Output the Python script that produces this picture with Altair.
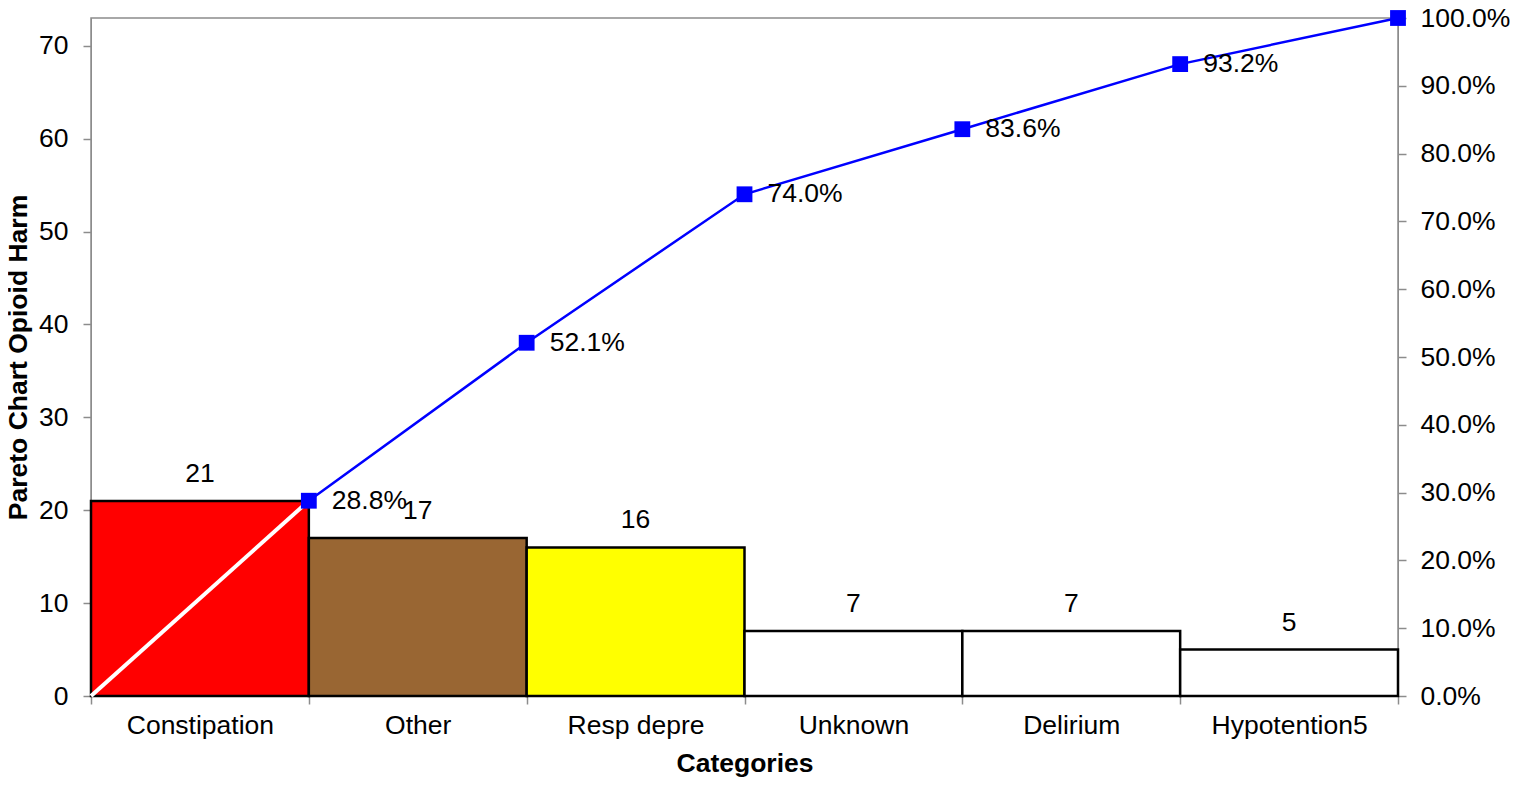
import altair as alt
import pandas as pd

categories = ["Constipation", "Other", "Resp depre", "Unknown", "Delirium", "Hypotention5"]
counts = [21, 17, 16, 7, 7, 5]
cum_pct = [0.288, 0.521, 0.740, 0.836, 0.932, 1.000]
bar_colors = ["#FF0000", "#996633", "#FFFF00", "#FFFFFF", "#FFFFFF", "#FFFFFF"]

left_ticks = [0, 10, 20, 30, 40, 50, 60, 70]
right_ticks = [0.0, 0.1, 0.2, 0.3, 0.4, 0.5, 0.6, 0.7, 0.8, 0.9, 1.0]

n = len(categories)
bars_df = pd.DataFrame({
    "cat": categories,
    "idx": list(range(n)),
    "idx_end": [i + 1 for i in range(n)],
    "mid": [i + 0.5 for i in range(n)],
    "count": counts,
    "pct": cum_pct,
})
# white starting segment: from the left edge of the first bar (0%) to its right edge
start_df = pd.DataFrame({"pos": [0, 1], "pct": [0.0, cum_pct[0]]})

FONT = "Liberation Sans"
FS = 26.5
GRAY = "#8c8c8c"

# one x axis: ticks at the bar edges, category names at the bar centres
x_values = [i / 2 for i in range(2 * n + 1)]
names_js = "[" + ",".join("'" + c + "'" for c in categories) + "]"
x_axis = alt.Axis(
    title="Categories", values=x_values, labelAngle=0, grid=False,
    labelExpr=f"datum.value % 1 === 0 ? '' : {names_js}[floor(datum.value)]",
    tickOpacity={"condition": {"test": "datum.value % 1 === 0", "value": 1}, "value": 0},
    tickSize=8, domainColor=GRAY, tickColor=GRAY, tickWidth=1.5,
    labelPadding=8, titlePadding=12, labelFlush=False, labelOverlap=False,
    labelFontSize=FS, titleFontSize=FS, titleFontWeight="bold",
    labelColor="black", titleColor="black",
)
x_scale = alt.Scale(domain=[0, n], nice=False, zero=True)

def X(field):
    return alt.X(field, type="quantitative", scale=x_scale, axis=x_axis)

count_scale = alt.Scale(domain=[0, 73], nice=False, zero=True)
y_left = alt.Y(
    "count:Q", scale=count_scale,
    axis=alt.Axis(
        orient="left", title="Pareto Chart Opioid Harm", values=left_ticks, grid=False,
        tickSize=8, domainColor=GRAY, tickColor=GRAY, tickWidth=1.5, labelPadding=15,
        labelFontSize=FS, titleFontSize=FS, titleFontWeight="bold",
        labelColor="black", titleColor="black", titlePadding=6,
    ),
)

pct_scale = alt.Scale(domain=[0, 1], nice=False)
y_right = alt.Y(
    "pct:Q", scale=pct_scale,
    axis=alt.Axis(
        orient="right", title=None, values=right_ticks, format=".1%", grid=False,
        tickSize=8, domainColor=GRAY, tickColor=GRAY, tickWidth=1.5, labelPadding=14,
        labelFontSize=FS, labelColor="black",
    ),
)

base = alt.Chart(bars_df)

bars = base.mark_rect(stroke="black", strokeWidth=2.5).encode(
    x=X("idx"),
    x2="idx_end:Q",
    y=y_left,
    y2=alt.datum(0),
    color=alt.Color("cat:N", scale=alt.Scale(domain=categories, range=bar_colors), legend=None),
)
bar_text = base.mark_text(
    baseline="bottom", dy=-13, fontSize=FS, font=FONT, color="black"
).encode(
    x=X("mid"),
    y=alt.Y("count:Q", scale=count_scale, axis=None),
    text=alt.Text("count:Q"),
)

white_line = alt.Chart(start_df).mark_line(color="white", strokeWidth=4).encode(
    x=X("pos"),
    y=alt.Y("pct:Q", scale=pct_scale, axis=None),
)
blue_line = base.mark_line(color="#0000FF", strokeWidth=2.5).encode(
    x=X("idx_end"), y=y_right
)
points = base.mark_point(
    shape="square", filled=True, size=250, color="#0000FF", opacity=1
).encode(
    x=X("idx_end"),
    y=alt.Y("pct:Q", scale=pct_scale, axis=None),
)
pct_text = base.transform_filter("datum.pct < 1").mark_text(
    align="left", baseline="middle", dx=23, fontSize=FS, font=FONT, color="black"
).encode(
    x=X("idx_end"),
    y=alt.Y("pct:Q", scale=pct_scale, axis=None),
    text=alt.Text("pct:Q", format=".1%"),
)

chart = (
    alt.layer(bars, bar_text, white_line, blue_line, points, pct_text)
    .resolve_scale(y="independent")
    .properties(width=1307, height=678)
    .configure(font=FONT, padding={"left": 83, "top": 10, "right": 112, "bottom": 81},
               autosize=alt.AutoSizeParams(type="none"))
    .configure_view(stroke=GRAY, strokeWidth=1.5)
)

chart.save("out.html", embed_options={"renderer": "svg", "actions": False})
